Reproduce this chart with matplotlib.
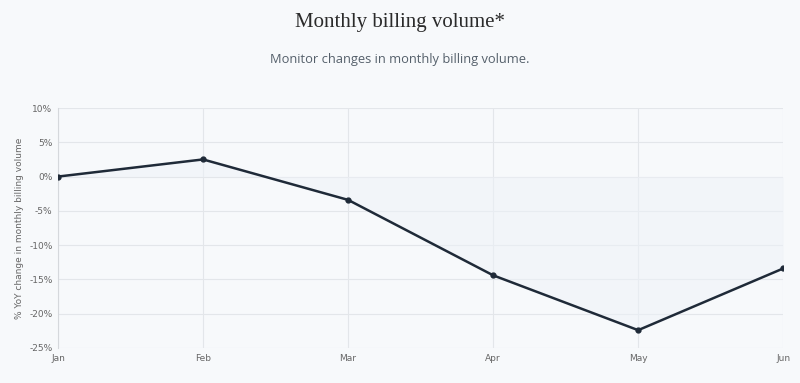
import matplotlib.pyplot as plt
from matplotlib.ticker import FuncFormatter

months = ["Jan", "Feb", "Mar", "Apr", "May", "Jun"]
yoy_change = [0.0, 2.5, -3.4, -14.4, -22.4, -13.4]
y_ticks = [10, 5, 0, -5, -10, -15, -20, -25]

bg = "#f7f9fb"
line_color = "#1f2a38"

fig = plt.figure(figsize=(8, 3.83), dpi=100, facecolor=bg)
ax = fig.add_axes([0.0725, 0.0914, 0.9065, 0.6266], facecolor=bg)

x = list(range(len(months)))
# very faint fill down to zero, like the original chart
ax.fill_between(x, yoy_change, 0, color="#eef2f8", alpha=0.5, linewidth=0)
ax.plot(x, yoy_change, color=line_color, linewidth=1.8, marker="o", markersize=3.5, zorder=3)

ax.set_xlim(0, len(months) - 1)
ax.set_ylim(-25, 10)
ax.set_xticks(x)
ax.set_xticklabels(months)
ax.set_yticks(y_ticks)
ax.yaxis.set_major_formatter(FuncFormatter(lambda v, _: f"{v:.0f}%"))

ax.grid(True, color="#e3e6ea", linewidth=0.8)
ax.set_axisbelow(True)
for side in ["top", "right", "bottom"]:
    ax.spines[side].set_visible(False)
ax.spines["left"].set_color("#d5d8dc")
ax.spines["left"].set_linewidth(0.8)
ax.tick_params(axis="both", length=0, labelsize=6.5, colors="#666666", pad=4)

ax.set_ylabel("% YoY change in monthly billing volume", fontsize=6.5, color="#666666", labelpad=4)

fig.text(0.5, 0.94, "Monthly billing volume*", ha="center", va="center",
         fontsize=15, family="Liberation Serif", color="#2b2b2b")
fig.text(0.5, 0.845, "Monitor changes in monthly billing volume.", ha="center", va="center",
         fontsize=9.3, family="Open Sans", color="#55606b")

fig.savefig("out.png", dpi=100, facecolor=bg)
